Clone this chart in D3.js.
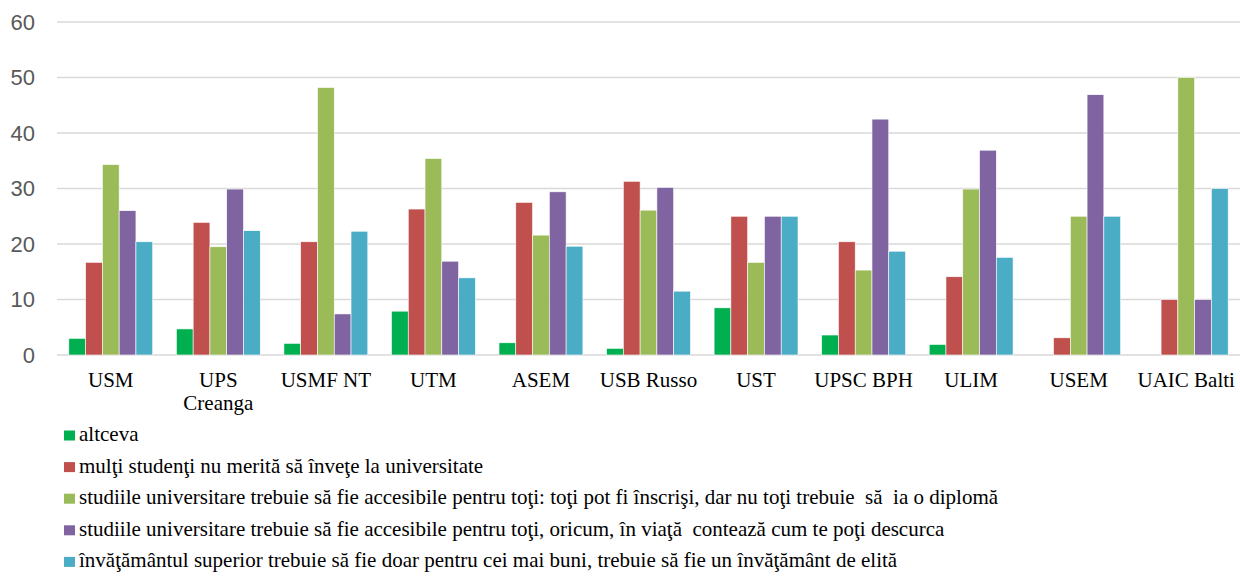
<!DOCTYPE html>
<html><head><meta charset="utf-8">
<script src="https://cdn.jsdelivr.net/npm/d3@7"></script>
<style>body{margin:0;background:#fff}svg{display:block}
.serif{font-family:"Liberation Serif","Times New Roman",serif}
.sans{font-family:"Liberation Sans",Arial,sans-serif}
</style>
</head><body><svg id="c" width="1240" height="578"></svg>
<script>
const categories = ["USM","UPS Creanga","USMF NT","UTM","ASEM","USB Russo","UST","UPSC BPH","ULIM","USEM","UAIC Balti"];
const seriesNames = [
  "altceva",
  "mulţi studenţi nu merită să înveţe la universitate",
  "studiile universitare trebuie să fie accesibile pentru toţi: toţi pot fi înscrişi, dar nu toţi trebuie  să  ia o diplomă",
  "studiile universitare trebuie să fie accesibile pentru toţi, oricum, în viaţă  contează cum te poţi descurca",
  "învăţământul superior trebuie să fie doar pentru cei mai buni, trebuie să fie un învăţământ de elită"
];
const altceva   = [3.0, 4.7, 2.1, 7.9, 2.2, 1.2, 8.5, 3.6, 1.9, 0, 0];
const multi     = [16.7, 23.9, 20.4, 26.3, 27.5, 31.3, 25.0, 20.4, 14.1, 3.1, 10];
const accesDipl = [34.3, 19.5, 48.2, 35.4, 21.6, 26.1, 16.7, 15.3, 29.9, 25, 50];
const accesViata= [26.0, 29.9, 7.4, 16.9, 29.4, 30.2, 25.0, 42.5, 36.9, 46.9, 10];
const elita     = [20.4, 22.4, 22.3, 13.9, 19.6, 11.5, 25.0, 18.7, 17.6, 25, 30];
const seriesValues = [altceva, multi, accesDipl, accesViata, elita];
const colors = ["#00B050","#C0504D","#9BBB59","#8064A2","#4BACC6"];
const yTicks = [0,10,20,30,40,50,60];

(function(){
const svg = d3.select("#c");
const pL = 57, pR = 1240, pT = 22, pB = 355;
const x0 = d3.scaleBand().domain(categories).range([pL, pR]).paddingInner(0.22).paddingOuter(0.11);
const x1 = d3.scaleBand().domain(d3.range(seriesNames.length)).range([0, x0.bandwidth()]);
const y = d3.scaleLinear().domain([0, 60]).range([pB, pT]);

svg.append("g").selectAll("line").data(yTicks).join("line")
  .attr("x1", pL).attr("x2", pR)
  .attr("y1", d => y(d)).attr("y2", d => y(d))
  .attr("stroke", "#d9d9d9").attr("stroke-width", 1.5);

svg.append("g").selectAll("text").data(yTicks).join("text")
  .attr("class", "sans")
  .attr("x", 35).attr("y", d => y(d)).attr("dy", "0.35em")
  .attr("text-anchor", "end")
  .attr("font-size", 22).attr("fill", "#595959")
  .text(d => d);

const groups = svg.append("g").selectAll("g").data(categories).join("g")
  .attr("transform", d => `translate(${x0(d)},0)`);
groups.selectAll("rect").data((c, i) => seriesValues.map((s, k) => ({k, v: s[i]})))
  .join("rect")
  .attr("x", d => x1(d.k)).attr("width", x1.bandwidth())
  .attr("y", d => y(d.v)).attr("height", d => y(0) - y(d.v))
  .attr("fill", d => colors[d.k])
  .attr("stroke", "#fff").attr("stroke-width", 0.6)
  .style("display", d => d.v > 0 ? null : "none");

const xl = svg.append("g").selectAll("text").data(categories).join("text")
  .attr("class", "serif")
  .attr("x", d => x0(d) + x0.bandwidth()/2).attr("y", 387)
  .attr("text-anchor", "middle")
  .attr("font-size", 21).attr("fill", "#000");
xl.each(function(d) {
  const t = d3.select(this);
  const parts = d === "UPS Creanga" ? ["UPS", "Creanga"] : [d];
  parts.forEach((p, i) => {
    t.append("tspan").attr("x", x0(d) + x0.bandwidth()/2).attr("dy", i === 0 ? 0 : 23).text(p);
  });
});

const lg = svg.append("g").selectAll("g").data(seriesNames).join("g")
  .attr("transform", (d, i) => `translate(64,${441 + i * 31.6})`);
lg.append("rect").attr("x", 0).attr("y", -10.5).attr("width", 11).attr("height", 10)
  .attr("fill", (d, i) => colors[i]);
lg.append("text").attr("class", "serif").attr("x", 15).attr("y", 0)
  .attr("font-size", 21).attr("fill", "#000")
  .style("white-space", "pre")
  .text(d => d);
})();
</script></body></html>
